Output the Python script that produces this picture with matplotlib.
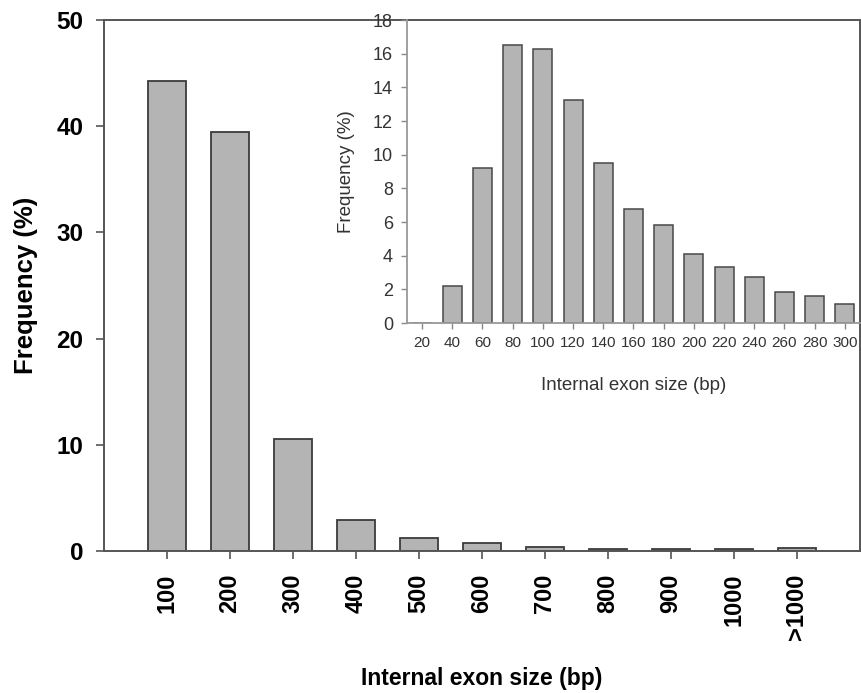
import matplotlib
matplotlib.use("Agg")
import matplotlib.pyplot as plt

plt.rcParams['font.family'] = ['Liberation Sans', 'DejaVu Sans']

# main histogram
main_labels = ['100', '200', '300', '400', '500', '600', '700', '800', '900', '1000', '>1000']
main_freq = [44.3, 39.5, 10.55, 2.9, 1.2, 0.75, 0.35, 0.2, 0.15, 0.15, 0.3]

# inset histogram
inset_labels = ['20', '40', '60', '80', '100', '120', '140', '160', '180', '200',
                '220', '240', '260', '280', '300']
inset_freq = [0, 2.2, 9.2, 16.5, 16.3, 13.25, 9.5, 6.8, 5.8, 4.1, 3.3, 2.73, 1.86, 1.59, 1.1]

bar_fill = '#b4b4b4'
bar_edge = '#3c3c3c'

fig = plt.figure(figsize=(8.61, 6.93), dpi=100)
ax = fig.add_axes([0.1208, 0.2049, 0.878, 0.7662])

xm = list(range(1, len(main_labels) + 1))
ax.bar(xm, main_freq, width=0.6, color=bar_fill, edgecolor=bar_edge, linewidth=1.3)
ax.set_xlim(0, 12)
ax.set_ylim(0, 50)
ax.set_yticks([0, 10, 20, 30, 40, 50])
ax.set_xticks(xm)
ax.set_xticklabels(main_labels, rotation=90, fontsize=17, fontweight='bold')
for lab in ax.get_yticklabels():
    lab.set_fontsize(17.5)
    lab.set_fontweight('bold')
ax.tick_params(axis='y', direction='out', length=6, width=1.2, color='#555555', pad=9)
ax.tick_params(axis='x', direction='out', length=6, width=1.2, color='#555555', pad=10)
for s in ax.spines.values():
    s.set_color('#555555')
    s.set_linewidth(1.4)
ax.set_ylabel('Frequency (%)', fontsize=18.5, fontweight='bold', labelpad=13)
ax.set_xlabel('Internal exon size (bp)', fontsize=16.5, fontweight='bold', labelpad=20)

# inset
axi = fig.add_axes([0.4727, 0.5339, 0.5261, 0.4372])
axi.patch.set_alpha(0)
xi = list(range(1, len(inset_labels) + 1))
axi.bar(xi, inset_freq, width=0.63, color=bar_fill, edgecolor='#484848', linewidth=1.1)
axi.set_xlim(0.5, 15.5)
axi.set_ylim(0, 18)
axi.set_yticks(range(0, 19, 2))
axi.set_xticks(xi)
axi.set_xticklabels(inset_labels, fontsize=11, color='#333333')
for lab in axi.get_yticklabels():
    lab.set_fontsize(13)
    lab.set_color('#333333')
axi.tick_params(axis='both', direction='out', length=4, width=1, color='#888888')
axi.tick_params(axis='y', pad=6)
axi.tick_params(axis='x', pad=5)
axi.spines['top'].set_visible(False)
axi.spines['right'].set_visible(False)
for s in ['left', 'bottom']:
    axi.spines[s].set_color('#999999')
    axi.spines[s].set_linewidth(1.3)
axi.set_ylabel('Frequency (%)', fontsize=13.5, color='#333333', labelpad=13)
axi.set_xlabel('Internal exon size (bp)', fontsize=13.5, color='#333333', labelpad=20)

fig.savefig('out.png', dpi=100)
